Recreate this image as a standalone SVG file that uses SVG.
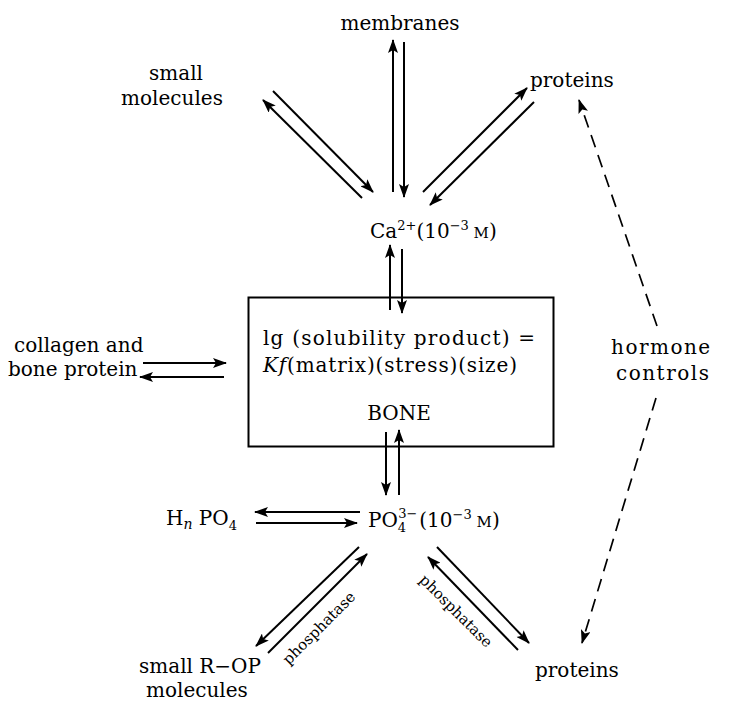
<svg xmlns="http://www.w3.org/2000/svg" width="729" height="703" viewBox="0 0 729 703">
<style>
text{font-family:"DejaVu Serif","Liberation Serif",serif;font-size:20px;fill:#000}
.ph{font-size:15px}
.ln{stroke:#000;stroke-width:2;fill:none}
.ds{stroke:#000;stroke-width:1.7;fill:none;stroke-dasharray:13 8}
.it{font-style:italic}
</style>
<defs>
<marker id="ah" viewBox="0 0 14 10" markerWidth="15" markerHeight="10" refX="13" refY="5" orient="auto" markerUnits="userSpaceOnUse">
<path d="M0,0 L14,5 L0,10 L3,5 z" fill="#000"/>
</marker>
</defs>
<rect width="729" height="703" fill="#fff"/>

<g id="membranes"><text x="400" y="30" text-anchor="middle">membranes</text></g>
<g id="small-molecules"><text x="176" y="80" text-anchor="middle">small</text><text x="172" y="105" text-anchor="middle">molecules</text></g>
<g id="proteins-top"><text x="530" y="87" font-size="21">proteins</text></g>
<g id="calcium"><text x="370" y="238">Ca<tspan font-size="13" dy="-8">2+</tspan><tspan dy="8">(10</tspan><tspan font-size="13" dy="-8">−3</tspan><tspan dy="8" font-size="15"> M</tspan><tspan>)</tspan></text></g>
<g id="bone">
<rect x="248.5" y="297.5" width="305" height="149" fill="none" stroke="#000" stroke-width="2"/>
<text x="263" y="345" textLength="272">lg (solubility product) =</text>
<text x="263" y="372" textLength="254"><tspan class="it">Kf</tspan>(matrix)(stress)(size)</text>
<text x="399" y="420" text-anchor="middle" font-size="21">BONE</text>
</g>
<g id="collagen"><text x="14" y="352">collagen and</text><text x="8" y="376">bone protein</text></g>
<g id="hormone"><text x="611" y="354" font-size="22" letter-spacing="1.5">hormone</text><text x="616" y="380" font-size="22" letter-spacing="1.5">controls</text></g>
<g id="hnpo4"><text x="166" y="525">H<tspan class="it" font-size="14" dy="4">n</tspan><tspan dy="-4"> PO</tspan><tspan font-size="13" dy="5">4</tspan></text></g>
<g id="phosphate"><text x="368" y="527">PO<tspan font-size="13" dy="5">4</tspan><tspan font-size="13" dx="-8" dy="-14">3−</tspan><tspan dy="9" dx="2">(10</tspan><tspan font-size="13" dy="-8">−3</tspan><tspan dy="8" font-size="15"> M</tspan><tspan>)</tspan></text></g>
<g id="small-rop"><text x="139" y="673" font-size="19">small R−OP</text><text x="146" y="697">molecules</text></g>
<g id="proteins-bottom"><text x="535" y="677" font-size="21">proteins</text></g>

<g id="connectors">
<line class="ln" x1="393" y1="192" x2="393" y2="40" marker-end="url(#ah)"/>
<line class="ln" x1="404" y1="42" x2="404" y2="197" marker-end="url(#ah)"/>
<line class="ln" x1="273" y1="91" x2="373" y2="192" marker-end="url(#ah)"/>
<line class="ln" x1="362" y1="198" x2="263" y2="100" marker-end="url(#ah)"/>
<line class="ln" x1="423" y1="192" x2="527" y2="88" marker-end="url(#ah)"/>
<line class="ln" x1="534" y1="102" x2="430" y2="205" marker-end="url(#ah)"/>
<line class="ln" x1="390" y1="310" x2="390" y2="245" marker-end="url(#ah)"/>
<line class="ln" x1="402" y1="249" x2="402" y2="313" marker-end="url(#ah)"/>
<line class="ln" x1="143" y1="363" x2="226" y2="363" marker-end="url(#ah)"/>
<line class="ln" x1="224" y1="377" x2="140" y2="377" marker-end="url(#ah)"/>
<line class="ln" x1="386" y1="432" x2="386" y2="495" marker-end="url(#ah)"/>
<line class="ln" x1="399" y1="495" x2="399" y2="430" marker-end="url(#ah)"/>
<line class="ln" x1="360" y1="512" x2="255" y2="512" marker-end="url(#ah)"/>
<line class="ln" x1="256" y1="523" x2="357" y2="523" marker-end="url(#ah)"/>
<line class="ln" x1="359" y1="547" x2="256" y2="646" marker-end="url(#ah)"/>
<line class="ln" x1="268" y1="653" x2="367" y2="554" marker-end="url(#ah)"/>
<line class="ln" x1="437" y1="547" x2="529" y2="643" marker-end="url(#ah)"/>
<line class="ln" x1="518" y1="650" x2="428" y2="557" marker-end="url(#ah)"/>
<line class="ds" x1="657" y1="326" x2="579" y2="100" marker-end="url(#ah)"/>
<line class="ds" x1="656" y1="398" x2="582" y2="643" marker-end="url(#ah)"/>
<text class="ph" transform="translate(319,628) rotate(-45)" text-anchor="middle" y="5">phosphatase</text>
<text class="ph" transform="translate(456,611) rotate(45)" text-anchor="middle" y="5">phosphatase</text>
</g>
</svg>
